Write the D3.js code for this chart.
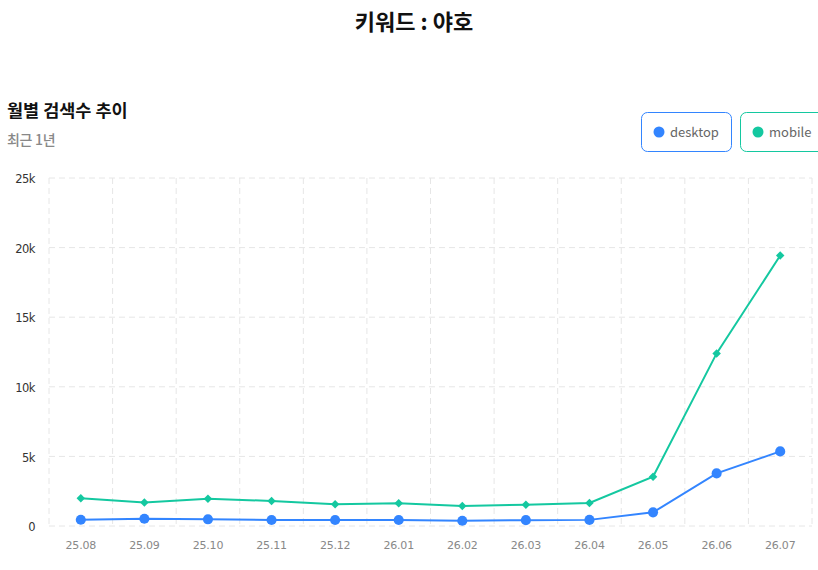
<!DOCTYPE html>
<html>
<head>
<meta charset="utf-8">
<script src="https://d3js.org/d3.v7.min.js"></script>
<style>
  body { margin: 0; background: #fff; overflow: hidden; }
  svg { display: block; font-family: 'Noto Sans CJK KR', 'Noto Sans', sans-serif; }
</style>
</head>
<body>
<svg id="chart" width="818" height="570"></svg>
<script>
// monthly search counts, last 12 months
var months = ['25.08', '25.09', '25.10', '25.11', '25.12', '26.01', '26.02', '26.03', '26.04', '26.05', '26.06', '26.07'];
var desktop = [450, 520, 480, 430, 430, 430, 380, 420, 440, 980, 3780, 5360];
var mobile = [1990, 1680, 1960, 1800, 1560, 1630, 1440, 1530, 1650, 3540, 12400, 19430];
var yTicks = [0, 5000, 10000, 15000, 20000, 25000];
var seriesNames = ['desktop', 'mobile'];

var colors = { desktop: '#3385ff', mobile: '#14c8a0' };
var svg = d3.select('#chart');

var plotLeft = 49, plotRight = 812, plotTop = 178, plotBottom = 526;

var x = d3.scaleBand().domain(months).range([plotLeft, plotRight]);
var y = d3.scaleLinear().domain([0, 25000]).range([plotBottom, plotTop]);

// titles
svg.append('text')
  .attr('x', 414).attr('y', 30)
  .attr('text-anchor', 'middle')
  .attr('font-size', 22).attr('font-weight', 700).attr('fill', '#111')
  .text('키워드 : 야호');
svg.append('text')
  .attr('x', 7).attr('y', 117)
  .attr('font-size', 17.5).attr('font-weight', 700).attr('fill', '#111')
  .text('월별 검색수 추이');
svg.append('text')
  .attr('x', 7).attr('y', 145)
  .attr('font-size', 14).attr('font-weight', 500).attr('fill', '#888')
  .attr('letter-spacing', '-0.3')
  .text('최근 1년');

// grid
var grid = svg.append('g').attr('stroke', '#e6e6e6').attr('stroke-dasharray', '6,4');
grid.selectAll('.h').data(yTicks).enter().append('line')
  .attr('x1', plotLeft).attr('x2', plotRight)
  .attr('y1', function (d) { return y(d); }).attr('y2', function (d) { return y(d); });
var vlines = months.map(function (m) { return x(m); }).concat([plotRight]);
grid.selectAll('.v').data(vlines).enter().append('line')
  .attr('x1', function (d) { return d; }).attr('x2', function (d) { return d; })
  .attr('y1', plotTop).attr('y2', plotBottom);

// axes
var yAxis = d3.axisLeft(y).tickValues(yTicks).tickSize(0).tickPadding(0)
  .tickFormat(function (d) { return d === 0 ? '0' : (d / 1000) + 'k'; });
svg.append('g').attr('transform', 'translate(35,1)').call(yAxis)
  .call(function (g) { g.select('.domain').remove(); })
  .selectAll('text').attr('font-size', 11.5).attr('fill', '#333')
  .attr('font-family', "'DejaVu Sans', sans-serif").attr('letter-spacing', '-0.5');

var xAxis = d3.axisBottom(x).tickSize(0).tickPadding(0);
svg.append('g').attr('transform', 'translate(0,' + (plotBottom + 15) + ')').call(xAxis)
  .call(function (g) { g.select('.domain').remove(); })
  .selectAll('text').attr('font-size', 11).attr('fill', '#888')
  .attr('font-family', "'DejaVu Sans', sans-serif").attr('letter-spacing', '-0.2');

// lines
var cx = function (d, i) { return x(months[i]) + x.bandwidth() / 2; };
var line = d3.line().x(cx).y(function (d) { return y(d); });

[['mobile', mobile], ['desktop', desktop]].forEach(function (s) {
  var name = s[0], vals = s[1];
  var isDesk = name === 'desktop';
  svg.append('path').datum(vals)
    .attr('fill', 'none').attr('stroke', colors[name]).attr('stroke-width', 2)
    .attr('d', line);
  var sym = d3.symbol().type(isDesk ? d3.symbolCircle : d3.symbolSquare)
    .size(isDesk ? 80 : 36);
  svg.append('g').selectAll('path').data(vals).enter().append('path')
    .attr('transform', function (d, i) {
      return 'translate(' + cx(d, i) + ',' + y(d) + ')' + (isDesk ? '' : ' rotate(45)');
    })
    .attr('fill', colors[name])
    .attr('d', sym);
});

// legend
var legendX = [641, 740], legendW = [90, 90];
seriesNames.forEach(function (name, i) {
  var g = svg.append('g').attr('transform', 'translate(' + legendX[i] + ',112)');
  g.append('rect').attr('x', 0.5).attr('y', 0.5).attr('width', legendW[i]).attr('height', 39)
    .attr('rx', 6).attr('fill', '#fff').attr('stroke', colors[name]);
  g.append('circle').attr('cx', 18).attr('cy', 20).attr('r', 5.5).attr('fill', colors[name]);
  g.append('text').attr('x', 29).attr('y', 25).attr('font-size', 13).attr('fill', '#666')
    .text(name);
});
</script>
</body>
</html>
